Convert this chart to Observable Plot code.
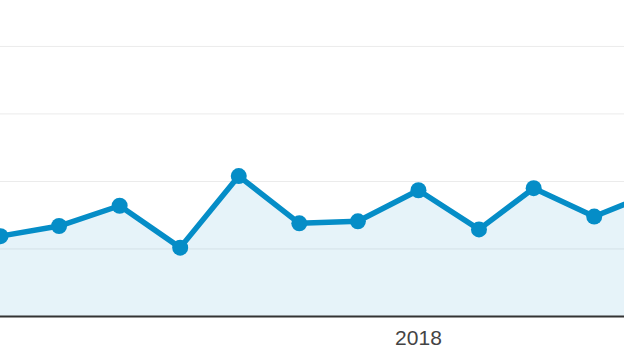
<!DOCTYPE html>
<html>
<head>
<meta charset="utf-8">
<script src="https://cdn.jsdelivr.net/npm/d3@7"></script>
<script src="https://cdn.jsdelivr.net/npm/@observablehq/plot@0.6"></script>
<style>
  html, body { margin: 0; padding: 0; background: #fff; overflow: hidden; }
</style>
</head>
<body>
<div id="chart"></div>
<script>
const months = ["2017-06-01","2017-07-01","2017-08-01","2017-09-01","2017-10-01","2017-11-01","2017-12-01","2018-01-01","2018-02-01","2018-03-01","2018-04-01","2018-05-01"];
const values = [119, 134, 164, 102, 208, 138, 141, 187, 129, 190, 148, 183];
const gridValues = [100, 200, 300, 400];
const yearTicks = ["2018-01-01"];

const data = months.map((m, i) => ({date: new Date(m), value: values[i]}));

const chart = Plot.plot({
  width: 624,
  height: 351,
  marginTop: 0,
  marginRight: 0,
  marginLeft: 0,
  marginBottom: 35,
  style: {fontFamily: "'Liberation Sans', Arial, sans-serif", background: "#fff"},
  x: {type: "utc", domain: [new Date(Date.UTC(2017, 5, 1)), new Date(Date.UTC(2018, 3, 16, 12))]},
  y: {domain: [0, 468]},
  marks: [
    Plot.ruleY(gridValues, {stroke: "#ebebeb", strokeWidth: 1}),
    Plot.areaY(data, {x: "date", y: "value", fill: "#058dc7", fillOpacity: 0.1, clip: true}),
    Plot.lineY(data, {x: "date", y: "value", stroke: "#058dc7", strokeWidth: 5.5, strokeLinejoin: "miter", clip: true}),
    Plot.dot(data, {x: "date", y: "value", r: 8, fill: "#058dc7", stroke: "none", clip: true}),
    Plot.ruleY([0], {stroke: "#333", strokeWidth: 2}),
    Plot.axisX(yearTicks.map(d => new Date(d)), {tickSize: 0, tickPadding: 14, tickFormat: d3.utcFormat("%Y"), fontSize: 21, fill: "#444", label: null}),
    Plot.axisY({ticks: [], label: null})
  ]
});
document.getElementById("chart").appendChild(chart);
</script>
</body>
</html>
